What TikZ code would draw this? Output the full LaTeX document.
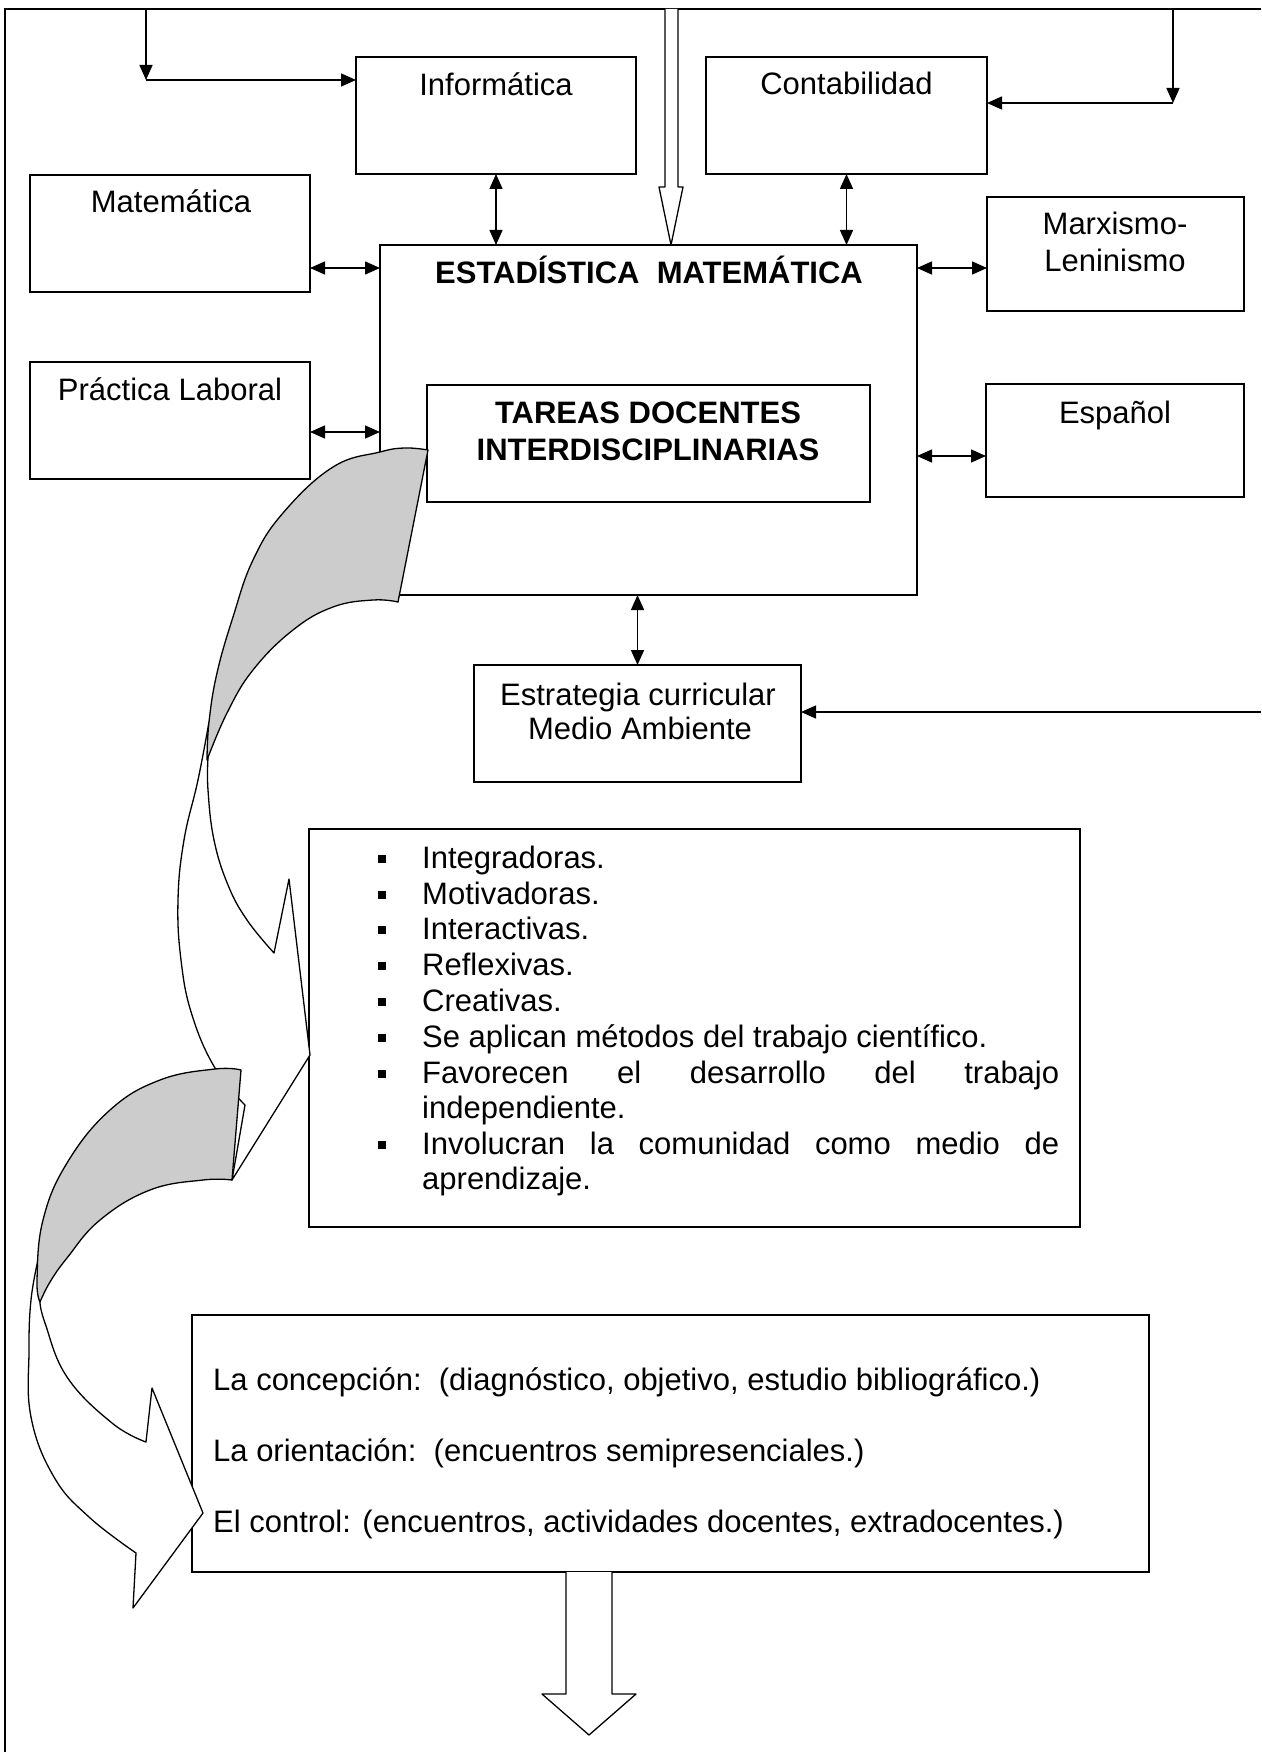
\documentclass[tikz,border=0pt]{standalone}
\usepackage{fontspec}
\setmainfont{Liberation Sans}
\usetikzlibrary{arrows.meta}
\begin{document}
\begin{tikzpicture}[x=1pt,y=-1pt,
  box/.style={draw, line width=1.6pt, inner sep=0pt, outer sep=0pt, fill=white},
  lbl/.style={anchor=base, inner sep=0pt, font=\fontsize{31}{35}\selectfont},
  lblw/.style={anchor=base west, inner sep=0pt, font=\fontsize{31}{35}\selectfont},
  blbl/.style={anchor=base, inner sep=0pt, font=\fontsize{31}{35}\selectfont\bfseries},
  arrtip/.tip={Triangle[length=15pt,width=13pt]},
  conn/.style={line width=1.5pt, -arrtip},
  dconn/.style={line width=1.5pt, arrtip-arrtip},
  wshape/.style={line width=1.3pt, line join=round, fill=white},
  gshape/.style={line width=1.3pt, line join=round, fill=black!20},
  bul/.style={fill=black, minimum width=8pt, minimum height=8pt, inner sep=0pt, outer sep=0pt}
]
\useasboundingbox (0,0) rectangle (1261,1752);
\fill[white] (0,0) rectangle (1261,1752);
% outer frame
\draw[line width=1.6pt] (5,1752) -- (5,9) -- (1261,9);

% boxes
\node[box, minimum width=280pt, minimum height=117pt] (info)  at (496,115.5) {};
\node[box, minimum width=281pt, minimum height=117pt] (conta) at (846.5,115.5) {};
\node[box, minimum width=280pt, minimum height=117pt] (mat)   at (170,233.5) {};
\node[box, minimum width=280pt, minimum height=117pt] (prac)  at (170,420.5) {};
\node[box, minimum width=537pt, minimum height=350pt] (est)   at (648.5,420) {};
\node[box, minimum width=443pt, minimum height=117pt] (tar)   at (648.5,443.5) {};
\node[box, minimum width=257pt, minimum height=114pt] (marx)  at (1115.5,254) {};
\node[box, minimum width=258pt, minimum height=113pt] (esp)   at (1115,440.5) {};
\node[box, minimum width=327pt, minimum height=117pt] (estr)  at (637.5,723.5) {};
\node[box, minimum width=771pt, minimum height=398pt] (bl)    at (694.5,1028) {};
\node[box, minimum width=957pt, minimum height=257pt] (bot)   at (670.5,1443.5) {};

% connectors
\coordinate (tl) at (146,9);
\coordinate (tlc) at (146,80);
\draw[conn] (tl) -- (tlc);
\draw[conn] (tlc) -- (info.west |- tlc);
\coordinate (tr) at (1173,9);
\coordinate (trc) at (1173,103);
\draw[conn] (tr) -- (trc);
\draw[conn] (trc) -- (conta.east |- trc);
\draw[dconn] (info.south) -- (info.south |- est.north);
\draw[dconn] (conta.south) -- (conta.south |- est.north);
\coordinate (ya) at (0,268);
\coordinate (yb) at (0,432);
\coordinate (yc) at (0,456);
\draw[dconn] (mat.east |- ya) -- (est.west |- ya);
\draw[dconn] (prac.east |- yb) -- (est.west |- yb);
\draw[dconn] (est.east |- ya) -- (marx.west |- ya);
\draw[dconn] (est.east |- yc) -- (esp.west |- yc);
\draw[dconn] (est.south -| estr.north) -- (estr.north);
\coordinate (re) at (1261,712);
\draw[conn] (re) -- (estr.east |- re);

% hollow arrows
\draw[wshape] (665,9) -- (665,187) -- (659,187) -- (671,245) -- (683,187) -- (678,187) -- (678,9);
\draw[wshape] (566,1572) -- (566,1694) -- (542,1694) -- (589,1735) -- (636,1694) -- (612,1694) -- (612,1572);

% curved arrow 1
\draw[wshape] plot[smooth, tension=0.7] coordinates {(209,722) (198,780) (184,840) (178,900) (181,960) (192,1015) (215,1068) (245,1105)}
  -- (232,1180) -- (310,1055) -- (289,879) -- (274,953)
  -- plot[smooth, tension=0.7] coordinates {(274,953) (247,920) (228,885) (214,840) (208,790) (208,758)} -- cycle;
\draw[gshape] plot[smooth, tension=0.7] coordinates {(428,450) (405,448) (380,452) (333,467) (283,513) (253,560) (233,617) (217,673) (209,722) (207,760)}
  -- plot[smooth, tension=0.7] coordinates {(207,760) (227,713) (253,670) (293,630) (333,607) (373,600) (398,602)} -- cycle;
% curved arrow 2
\draw[wshape] plot[smooth, tension=0.7] coordinates {(38,1260) (31,1300) (29,1350) (31,1417) (54,1477) (89,1517) (136,1553)}
  -- (133,1608) -- (203,1513) -- (152,1388) -- (146,1442)
  -- plot[smooth, tension=0.7] coordinates {(146,1442) (112,1423) (67,1377) (45,1323) (40,1302)} -- cycle;
\draw[gshape] plot[smooth, tension=0.7] coordinates {(241,1070) (215,1069) (160,1080) (110,1110) (67,1163) (43,1220) (37,1280) (40,1302)}
  -- plot[smooth, tension=0.7] coordinates {(40,1302) (50,1282) (67,1258) (100,1220) (150,1190) (203,1180) (232,1180)} -- cycle;

% texts
\node[lbl] (tinfo) at (496,96) {Informática};
\node[lbl] (tconta) at (846.5,95) {Contabilidad};
\node[lbl] (tmat) at (171,213) {Matemática};
\node[lbl] (tprac) at (170,400) {Práctica Laboral};
\node[blbl] (test) at (649,284) {ESTADÍSTICA\ \ MATEMÁTICA};
\node[blbl] (ttar1) at (648,423) {TAREAS DOCENTES};
\node[blbl] (ttar2) at (648,460) {INTERDISCIPLINARIAS};
\node[lbl] (tmarx1) at (1115,235) {Marxismo-};
\node[lbl] (tmarx2) at (1115,272) {Leninismo};
\node[lbl] (tesp) at (1115,423) {Español};
\node[lbl] (testr1) at (638,705) {Estrategia curricular};
\node[lbl] (testr2) at (640,739) {Medio Ambiente};

% bullet list
\foreach \y/\n in {868/1,904/2,939/3,975/4,1011/5,1047/6,1083/7,1154/8}
  \node[bul] (b\n) at (382,\y-9) {};
\node[lblw] (i1) at (422,868) {Integradoras.};
\node[lblw] (i2) at (422,904) {Motivadoras.};
\node[lblw] (i3) at (422,939) {Interactivas.};
\node[lblw] (i4) at (422,975) {Reflexivas.};
\node[lblw] (i5) at (422,1011) {Creativas.};
\node[lblw] (i6) at (422,1047) {Se aplican métodos del trabajo científico.};
\node[lblw] (i7) at (422,1083) {\makebox[637pt][s]{Favorecen el desarrollo del trabajo}};
\node[lblw] (i7b) at (422,1118) {independiente.};
\node[lblw] (i8) at (422,1154) {\makebox[637pt][s]{Involucran la comunidad como medio de}};
\node[lblw] (i8b) at (422,1189) {aprendizaje.};

% bottom box lines
\node[lblw] (c1) at (213,1390) {La concepción:\ \ (diagnóstico, objetivo, estudio bibliográfico.)};
\node[lblw] (c2) at (213,1461) {La orientación:\ \ (encuentros semipresenciales.)};
\node[lblw] (c3) at (213,1532) {El control: (encuentros, actividades docentes, extradocentes.)};
\end{tikzpicture}
\end{document}
